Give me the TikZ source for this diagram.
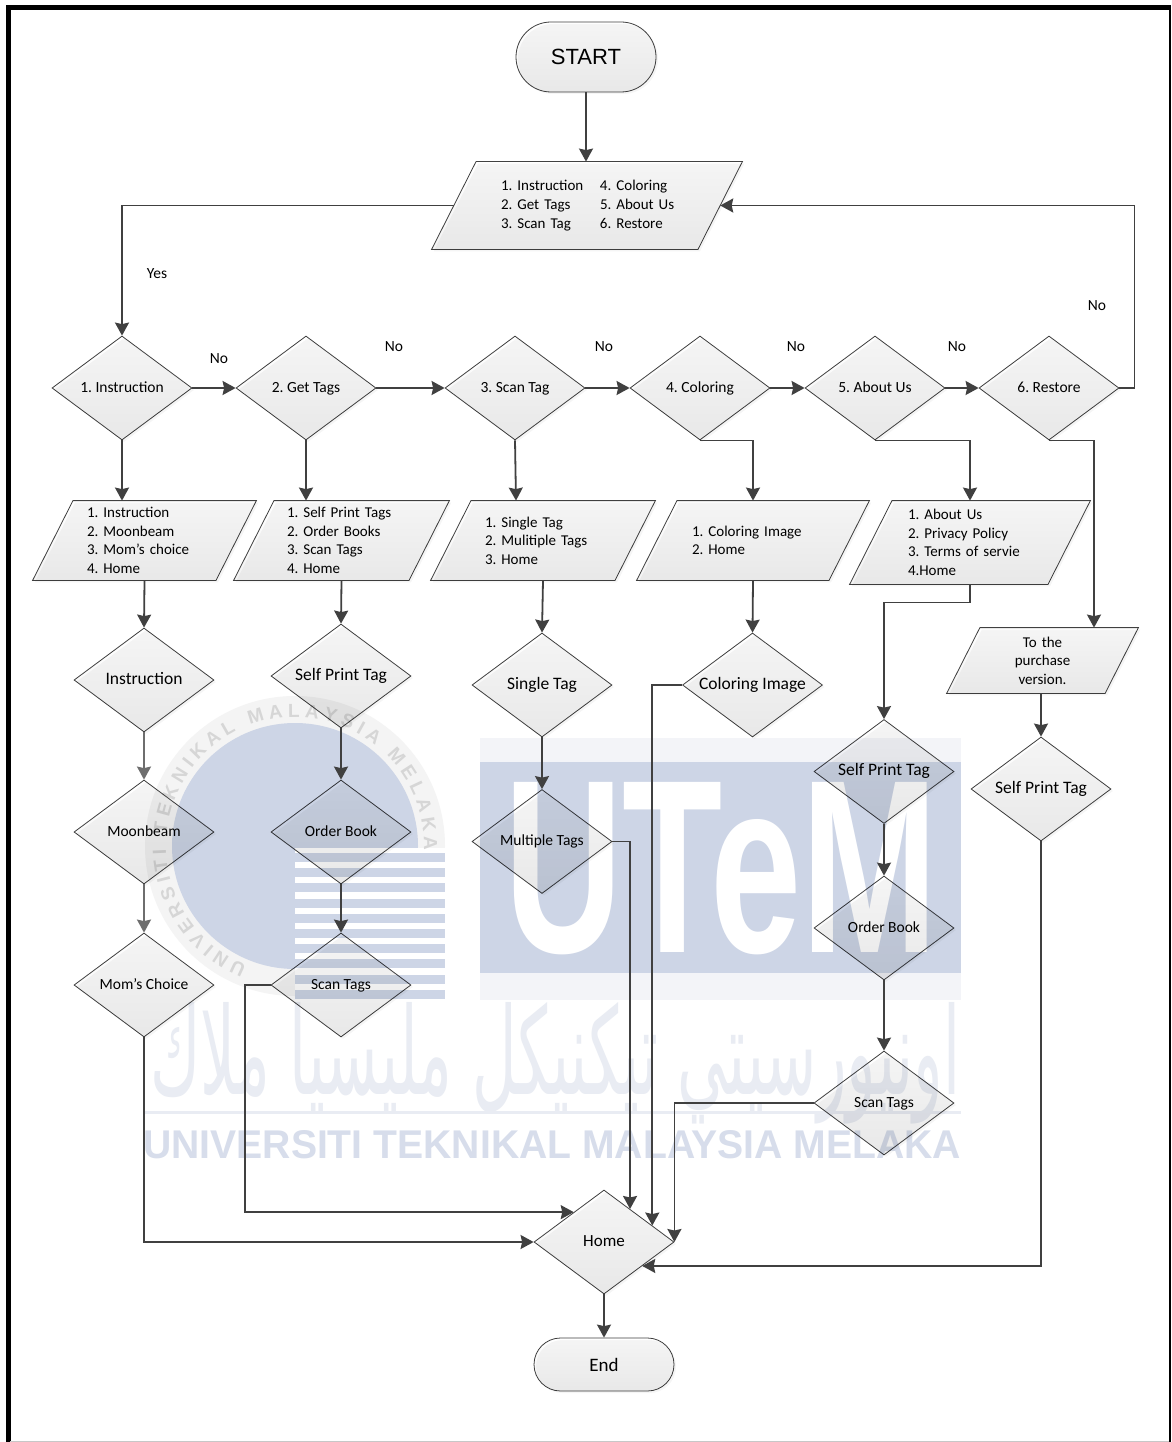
\documentclass[tikz,border=0pt]{standalone}
\usepackage{fontspec}
\setmainfont{Carlito}
\newfontfamily\wmfont{Liberation Sans Bold}
\newfontfamily\startfont{Liberation Sans}
\newfontfamily\arabfont[Script=Arabic]{DejaVu Sans}
\TeXXeTstate=1
\frenchspacing
\usetikzlibrary{shapes.geometric,shapes.misc,shadows,arrows.meta,calc,decorations.text}
\definecolor{ink}{HTML}{404040}
\definecolor{inklight}{HTML}{6E6E6E}
\definecolor{wmblue}{RGB}{205,213,230}
\definecolor{wmpale}{RGB}{243,244,248}
\definecolor{wmtext}{RGB}{215,221,235}
\definecolor{wmarab}{RGB}{233,236,243}
\definecolor{wmring}{RGB}{244,244,244}
\definecolor{wmringtext}{RGB}{214,214,214}
\newdimen\prL \newdimen\prR \newdimen\prB \newdimen\prT \newdimen\prS
\makeatletter
\pgfdeclareshape{parabox}{%
  \inheritsavedanchors[from=rectangle]%
  \inheritanchorborder[from=rectangle]%
  \inheritanchor[from=rectangle]{center}%
  \inheritanchor[from=rectangle]{north}%
  \inheritanchor[from=rectangle]{south}%
  \inheritanchor[from=rectangle]{east}%
  \inheritanchor[from=rectangle]{west}%
  \anchor{leftside}{\southwest \pgf@xa=\pgf@x \pgf@ya=\pgf@y \northeast \pgf@yb=\pgf@y
    \pgf@x=\pgf@xa \advance\pgf@x by .253\pgf@yb \advance\pgf@x by -.253\pgf@ya
    \pgf@y=.5\pgf@ya \advance\pgf@y by .5\pgf@yb}%
  \anchor{rightside}{\southwest \pgf@ya=\pgf@y \northeast \pgf@xa=\pgf@x \pgf@yb=\pgf@y
    \pgf@x=\pgf@xa \advance\pgf@x by -.253\pgf@yb \advance\pgf@x by .253\pgf@ya
    \pgf@y=.5\pgf@ya \advance\pgf@y by .5\pgf@yb}%
  \backgroundpath{%
    \southwest \prL=\pgf@x \prB=\pgf@y
    \northeast \prR=\pgf@x \prT=\pgf@y
    \prS=\prT \advance\prS by -\prB \prS=.506\prS
    \pgfpathmoveto{\pgfqpoint{\prL}{\prB}}%
    \pgfpathlineto{\pgfpointadd{\pgfqpoint{\prL}{\prT}}{\pgfqpoint{\prS}{0pt}}}%
    \pgfpathlineto{\pgfqpoint{\prR}{\prT}}%
    \pgfpathlineto{\pgfpointadd{\pgfqpoint{\prR}{\prB}}{\pgfqpoint{-\prS}{0pt}}}%
    \pgfpathclose
  }%
}
\makeatother
\tikzset{
  box/.style={draw=ink,line width=.8pt,top color=white,bottom color=white!95!black,
    blend mode=multiply,
    drop shadow={shadow xshift=2pt,shadow yshift=-2pt,opacity=.04,fill=black},inner sep=0pt,
    font=\fontsize{15.5}{18.6}\selectfont},
  dia/.style={box,diamond,shape aspect=1.346,minimum width=140pt,minimum height=104pt,
    text height=9pt,text depth=1pt},
  parai/.style={box,shape=parabox,font=\fontsize{15}{18.6}\selectfont},
  term/.style={box,rounded rectangle,minimum width=140pt},
  conn/.style={draw=ink,line width=1.8pt,-{Stealth[length=13pt,width=14pt,inset=1.5pt]}},
  connlight/.style={conn,draw=inklight},
  lbl/.style={font=\fontsize{15.5}{18}\selectfont,inner sep=0pt},
  big/.style={font=\fontsize{17.5}{20}\selectfont},
}
\begin{document}
\begin{tikzpicture}[x=1pt,y=-1pt]
\useasboundingbox (0,0) rectangle (1171,1442);
\fill[white] (0,0) rectangle (1171,1442);

% watermark, under the drawing
\fill[wmpale] (480,738) rectangle (961,1000);
\fill[wmblue] (480,762) rectangle (961,973);
\node[inner sep=0pt,text=white,anchor=north west] (wmutem) at (504,782)
  {\resizebox{434pt}{170pt}{\wmfont UTeM}};
\fill[wmring] (295,846) circle (150);
\fill[wmblue] (295,846) circle (123);
\fill[white] (295,848) rectangle (445,997);
\foreach \k in {0,...,9} {\fill[wmblue] (295,{853+\k*15.2}) rectangle (445,{862+\k*15.2});}
\path[postaction={decorate},decoration={text along path,raise=0pt,text align=fit to path,
  text={|\wmfont\fontsize{19}{22}\selectfont\color{wmringtext}|UNIVERSITI TEKNIKAL MALAYSIA MELAKA}}]
  (295,846) ++(112:129) arc[start angle=112,end angle=362,radius=129];
\node[inner sep=0pt,text=wmarab,anchor=north west] (wmjawi) at (150,1002)
  {\resizebox{810pt}{92pt}{\arabfont\beginR اونيورسيتي تيكنيكل مليسيا ملاك\endR}};
\fill[wmarab] (143,1111) rectangle (961,1114);
\node[inner sep=0pt,text=wmtext,anchor=north west] (wmname) at (143,1130)
  {\resizebox{818pt}{28pt}{\wmfont UNIVERSITI TEKNIKAL MALAYSIA MELAKA}};

% frame
\draw[black,line width=5pt] (8.2,1442) -- (8.2,7.3) -- (1171,7.3);
\draw[black,line width=2.5pt] (1170.2,7) -- (1170.2,1442);
\draw[black!22,line width=1pt] (10,1441.4) -- (1169,1441.4);

% start and menu
\node[term,minimum height=70pt,font=\startfont\fontsize{22}{26}\selectfont] (start) at (586,57) {START};
\node[parai,minimum width=310pt,minimum height=87pt,text width=172pt,align=left] (pT) at (587,205.5)
  {\mbox{\makebox[99pt][l]{1. Instruction}4. Coloring}\\\mbox{\makebox[99pt][l]{2. Get Tags}5. About Us}\\\mbox{\makebox[99pt][l]{3. Scan Tag}6. Restore}};

% decision row
\node[dia] (d1) at (122,388) {1. Instruction};
\node[dia] (d2) at (306,388) {2. Get Tags};
\node[dia] (d3) at (515,388) {3. Scan Tag};
\node[dia] (d4) at (700,388) {4. Coloring};
\node[dia] (d5) at (875,388) {5. About Us};
\node[dia] (d6) at (1049,388) {6. Restore};

% menus
\node[parai,minimum width=223pt,minimum height=79pt,text width=115pt,align=left] (pA) at (144.5,540.5)
  {1. Instruction\\2. Moonbeam\\3. Mom’s choice\\4. Home};
\node[parai,minimum width=215pt,minimum height=79pt,text width=109pt,align=left] (pB) at (341.5,540.5)
  {1. Self Print Tags\\2. Order Books\\3. Scan Tags\\4. Home};
\node[parai,minimum width=224pt,minimum height=79pt,text width=116pt,align=left] (pC) at (543,540.5)
  {1. Single Tag\\2. Mulitiple Tags\\3. Home};
\node[parai,minimum width=232pt,minimum height=79pt,text width=122pt,align=left] (pD) at (753,540.5)
  {1. Coloring Image\\2. Home};
\node[parai,minimum width=240pt,minimum height=83pt,text width=124pt,align=left] (pE) at (970,542.5)
  {1. About Us\\2. Privacy Policy\\3. Terms of servie\\4.Home};
\node[parai,minimum width=191pt,minimum height=65pt,text width=100pt,align=center] (pF) at (1042.5,660.5)
  {To the\\purchase\\version.};

% lower decisions
\node[dia,big] (a1) at (144,680) {Instruction};
\node[dia] (a2) at (144,832) {Moonbeam};
\node[dia] (a3) at (144,985) {Mom’s Choice};
\node[dia,big] (b1) at (341,676) {Self Print Tag};
\node[dia] (b2) at (341,832) {Order Book};
\node[dia] (b3) at (341,985) {Scan Tags};
\node[dia,big] (c1) at (542,685) {Single Tag};
\node[dia] (c2) at (542,841.5) {Multiple Tags};
\node[dia,big] (e1) at (752.5,685) {Coloring Image};
\node[dia,big] (f1) at (884,771.5) {Self Print Tag};
\node[dia] (f2) at (884,928) {Order Book};
\node[dia] (f3) at (884,1103) {Scan Tags};
\node[dia,big] (g1) at (1041,789) {Self Print Tag};
\node[dia,font=\fontsize{17}{20}\selectfont] (home) at (604,1242) {Home};
\node[term,minimum height=53pt,font=\fontsize{19}{22}\selectfont] (end) at (604,1364.5) {End};

% arrival points on the Home diamond
\coordinate (hNW) at ($(home.north)!.43!(home.west)$);
\coordinate (hN1) at ($(home.north)!.37!(home.east)$);
\coordinate (hN2) at ($(home.north)!.686!(home.east)$);
\coordinate (hSE) at ($(home.east)!.457!(home.south)$);

% connectors
\draw[conn] (start.south) -- (start.south |- pT.north);
\draw[conn] (pT.leftside) -| (d1.north);
\draw[conn] (d1.east) -- (d2.west);
\draw[conn] (d2.east) -- (d3.west);
\draw[conn] (d3.east) -- (d4.west);
\draw[conn] (d4.east) -- (d5.west);
\draw[conn] (d5.east) -- (d6.west);
\draw[conn] (d6.east) -- ++(15,0) |- (pT.rightside);
\draw[conn] (d1.south) -- (d1.south |- pA.north);
\draw[conn] (d2.south) -- (d2.south |- pB.north);
\draw[conn] (d3.south) -- ($(d3.south |- pC.north)+(1,0)$);
\draw[conn] (d4.south) -| (pD.north);
\draw[conn] (d5.south) -| (pE.north);
\draw[conn] (d6.south) -| ($(pF.north)+(51.5,0)$);
\draw[conn] (pA.south) -- (a1.north);
\draw[conn] (pB.south) -- (b1.north);
\draw[conn] (pC.south) -- (c1.north);
\draw[conn] (pD.south) -- (e1.north);
\draw[conn] (pE.south) -- ++(0,18) -| (f1.north);
\draw[conn] (g1.north |- pF.south) -- (g1.north);
\draw[connlight] (a1.south) -- (a2.north);
\draw[connlight] (a2.south) -- (a3.north);
\draw[conn] (b1.south) -- (b2.north);
\draw[conn] (b2.south) -- (b3.north);
\draw[conn] (c1.south) -- (c2.north);
\draw[conn] (f1.south) -- (f2.north);
\draw[conn] (f2.south) -- (f3.north);
\draw[conn] (a3.south) |- (home.west);
\draw[conn] (b3.west) -- ++(-26,0) |- (hNW);
\draw[conn] (c2.east) -| (hN1);
\draw[conn] (e1.west) -| (hN2);
\draw[conn] (f3.west) -| (home.east);
\draw[conn] (g1.south) |- (hSE);
\draw[conn] (home.south) -- (end.north);

% flow labels
\node[lbl] (ly) at (157,274) {Yes};
\node[lbl] (n1) at (219,359) {No};
\node[lbl] (n2) at (394,347) {No};
\node[lbl] (n3) at (604,347) {No};
\node[lbl] (n4) at (796,347) {No};
\node[lbl] (n5) at (957,347) {No};
\node[lbl] (n6) at (1097,306) {No};
\end{tikzpicture}
\end{document}
